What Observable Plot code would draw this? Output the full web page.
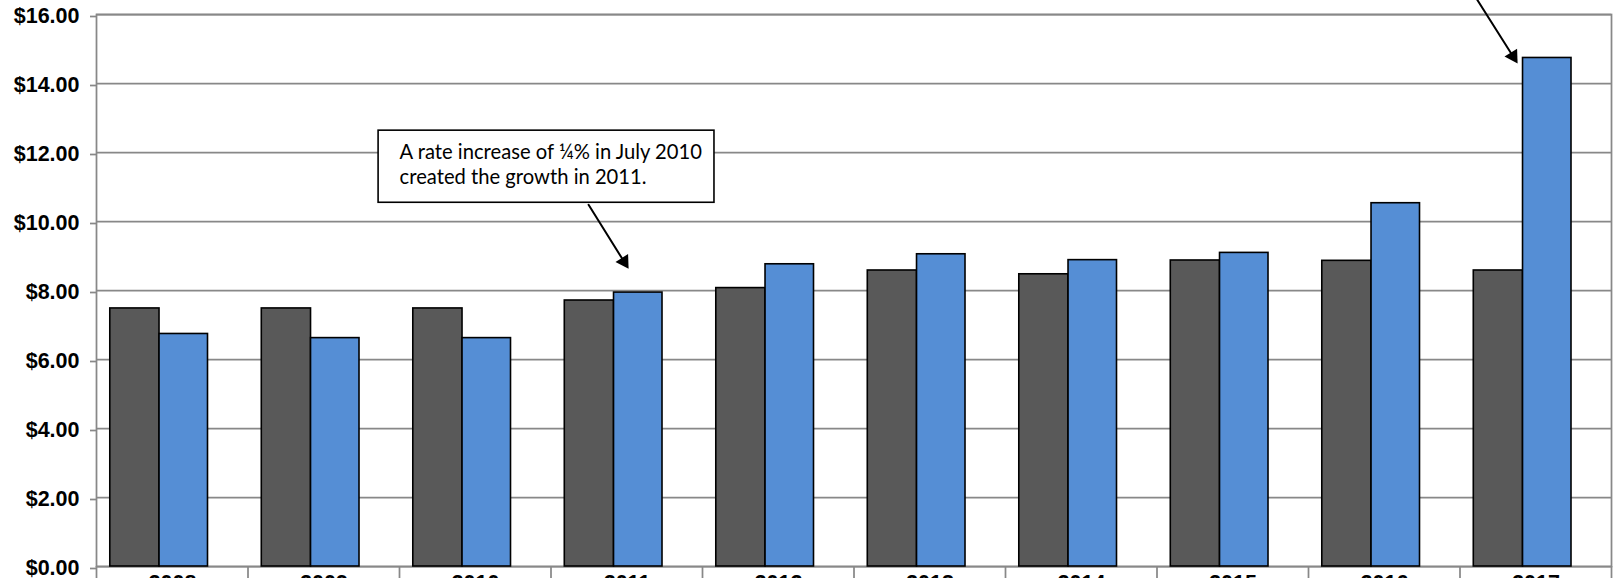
<!DOCTYPE html>
<html><head><meta charset="utf-8">
<script src="https://cdn.jsdelivr.net/npm/d3@7"></script>
<script src="https://cdn.jsdelivr.net/npm/@observablehq/plot@0.6"></script>
<style>html,body{margin:0;padding:0;background:#fff;overflow:hidden}#chart svg{display:block}</style>
</head><body><div id="chart"></div>
<script>
// ---- data ----
const years = [2008, 2009, 2010, 2011, 2012, 2013, 2014, 2015, 2016, 2017];
const grayValues = [7.48, 7.48, 7.48, 7.71, 8.07, 8.58, 8.47, 8.87, 8.86, 8.58];
const blueValues = [6.74, 6.62, 6.62, 7.94, 8.76, 9.05, 8.88, 9.09, 10.53, 14.74];
const yTicks = [0, 2, 4, 6, 8, 10, 12, 14, 16];
const noteLines = ["A rate increase of ¼% in July 2010", "created the growth in 2011."];
const noteBox = [{x1: 2009.446, x2: 2011.663, y1: 10.543, y2: 12.633}];
const arrows = [
  {x1: 2010.832, y1: 10.485, x2: 2011.096, y2: 8.627},
  {x1: 2016.693, y1: 16.46, x2: 2016.964, y2: 14.58}
];

const rows = years.map((year, i) => ({year, gray: grayValues[i], blue: blueValues[i]}));
const boundaries = years.map(y => y - 0.416).concat([years[years.length - 1] + 0.584]);
const gridColor = "#888888";

const chart = Plot.plot({
  width: 1613,
  height: 578,
  marginTop: 14,
  marginBottom: 12,
  marginLeft: 96,
  marginRight: 2,
  style: {background: "#fff", overflow: "visible", fontFamily: "'Liberation Sans', Arial, sans-serif"},
  x: {type: "linear", domain: [years[0] - 0.416, years[years.length - 1] + 0.584]},
  y: {domain: [0, 16]},
  marks: [
    Plot.gridY(yTicks, {stroke: gridColor, strokeOpacity: 1, strokeWidth: 1.75}),
    Plot.frame({stroke: gridColor, strokeWidth: 1.75}),
    Plot.axisY(yTicks, {
      tickSize: 6, tickPadding: 11, stroke: gridColor, strokeWidth: 1.75,
      tickFormat: d => "$" + d.toFixed(2), fontSize: 21.5, fontWeight: "bold", fill: "#000", dy: 2
    }),
    Plot.axisX(boundaries, {tickSize: 12, tickFormat: () => "", stroke: gridColor, strokeWidth: 1.75}),
    Plot.axisX(years, {
      tickSize: 0, tickPadding: 8, tickFormat: d => String(d), dx: 13,
      fontSize: 21.5, fontWeight: "bold", fill: "#000"
    }),
    Plot.rectY(rows, {x1: d => d.year - 0.325, x2: d => d.year, y: "gray", fill: "#595959", stroke: "#000", strokeWidth: 1.6}),
    Plot.rectY(rows, {x1: d => d.year, x2: d => d.year + 0.32, y: "blue", fill: "#558ED5", stroke: "#000", strokeWidth: 1.6}),
    Plot.rect(noteBox, {x1: "x1", x2: "x2", y1: "y1", y2: "y2", fill: "#fff", stroke: "#000", strokeWidth: 1.6}),
    Plot.text(noteBox, {
      x: "x1", y: "y2", text: () => noteLines.join("\n"), textAnchor: "start", lineAnchor: "top",
      dx: 21, dy: 11.5, lineHeight: 1.2, fontSize: 20.2, fill: "#000",
      fontFamily: "Lato, 'Open Sans', sans-serif"
    }),
    Plot.arrow(arrows, {x1: "x1", y1: "y1", x2: "x2", y2: "y2", headLength: 0, insetEnd: 8, stroke: "#000", strokeWidth: 2}),
    Plot.dot(arrows, {x: "x2", y: "y2", symbol: "triangle", r: 5.5, rotate: 148, fill: "#000", stroke: "none", dx: -4.5, dy: -7.25})
  ]
});
document.getElementById("chart").appendChild(chart);
</script>
</body></html>
